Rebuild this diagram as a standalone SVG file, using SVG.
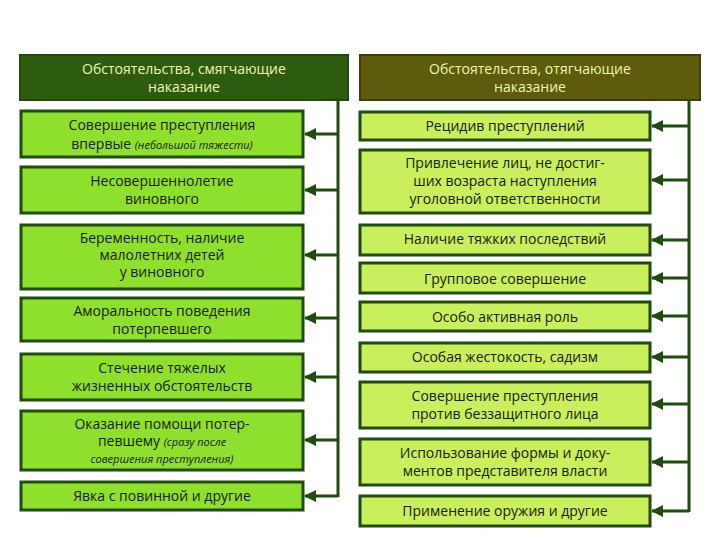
<svg xmlns="http://www.w3.org/2000/svg" width="720" height="540" viewBox="0 0 720 540">
<style>
text{font-family:"Open Sans","DejaVu Sans",sans-serif;font-size:14px;fill:#1a1a0a;text-anchor:middle}
.h{fill:#eef7b0}
.it{font-style:italic;font-size:11px}
.lb{fill:#8fe02c;stroke:#1f4d0c;stroke-width:3}
.rb{fill:#c9ef5c;stroke:#1f4d0c;stroke-width:3}
.c{stroke:#1f4d0c;stroke-width:3;fill:none}
</style>
<defs>
<marker id="m" markerWidth="12" markerHeight="12" refX="11" refY="6" orient="auto" markerUnits="userSpaceOnUse"><path d="M12,6L0,0V12Z" fill="#1f4d0c"/></marker></defs>
<rect width="720" height="540" fill="#fff"/>
<g id="hl"><rect x="20" y="55" width="328" height="45" fill="#2e5c0f" stroke="#1f4d0c" stroke-width="2"/><text class="h" x="184" y="74">Обстоятельства, смягчающие</text><text class="h" x="184" y="92">наказание</text></g>
<g id="hr"><rect x="360" y="55" width="340" height="45" fill="#5c5c0c" stroke="#3f3f08" stroke-width="2"/><text class="h" x="530" y="74">Обстоятельства, отягчающие</text><text class="h" x="530" y="92">наказание</text></g>
<g id="l1"><rect class="lb" x="21" y="111" width="282" height="46"/><text x="162" y="130">Совершение преступления</text><text x="162" y="149"><tspan>впервые </tspan><tspan class="it">(небольшой тяжести)</tspan></text></g>
<g id="l2"><rect class="lb" x="21" y="167" width="282" height="46"/><text x="162" y="186">Несовершеннолетие</text><text x="162" y="204">виновного</text></g>
<g id="l3"><rect class="lb" x="21" y="225" width="282" height="64"/><text x="162" y="243">Беременность, наличие</text><text x="162" y="260">малолетних детей</text><text x="162" y="277">у виновного</text></g>
<g id="l4"><rect class="lb" x="21" y="298" width="282" height="43"/><text x="162" y="316">Аморальность поведения</text><text x="162" y="334">потерпевшего</text></g>
<g id="l5"><rect class="lb" x="21" y="354" width="282" height="46"/><text x="162" y="373">Стечение тяжелых</text><text x="162" y="391">жизненных обстоятельств</text></g>
<g id="l6"><rect class="lb" x="21" y="411" width="282" height="59"/><text x="162" y="429">Оказание помощи потер-</text><text x="162" y="446"><tspan>певшему </tspan><tspan class="it">(сразу после</tspan></text><text class="it" x="162" y="463">совершения преступления)</text></g>
<g id="l7"><rect class="lb" x="21" y="482" width="282" height="28"/><text x="162" y="501">Явка с повинной и другие</text></g>
<g id="r1"><rect class="rb" x="360" y="112" width="290" height="28"/><text x="505" y="131">Рецидив преступлений</text></g>
<g id="r2"><rect class="rb" x="360" y="150" width="290" height="63"/><text x="505" y="168">Привлечение лиц, не достиг-</text><text x="505" y="186">ших возраста наступления</text><text x="505" y="204">уголовной ответственности</text></g>
<g id="r3"><rect class="rb" x="360" y="225" width="290" height="30"/><text x="505" y="244">Наличие тяжких последствий</text></g>
<g id="r4"><rect class="rb" x="360" y="263" width="290" height="30"/><text x="505" y="284">Групповое совершение</text></g>
<g id="r5"><rect class="rb" x="360" y="302" width="290" height="29"/><text x="505" y="322">Особо активная роль</text></g>
<g id="r6"><rect class="rb" x="360" y="343" width="290" height="29"/><text x="505" y="362">Особая жестокость, садизм</text></g>
<g id="r7"><rect class="rb" x="360" y="382" width="290" height="46"/><text x="505" y="401">Совершение преступления</text><text x="505" y="419">против беззащитного лица</text></g>
<g id="r8"><rect class="rb" x="360" y="439" width="290" height="46"/><text x="505" y="458">Использование формы и доку-</text><text x="505" y="476">ментов представителя власти</text></g>
<g id="r9"><rect class="rb" x="360" y="496" width="290" height="30"/><text x="505" y="516">Применение оружия и другие</text></g>
<g id="conn">
<path class="c" d="M338,100V497"/>
<path class="c" d="M689,100V512"/>
<g class="c" marker-end="url(#m)">
<path d="M338,134H305"/><path d="M338,190H305"/><path d="M338,255H305"/><path d="M338,318H305"/><path d="M338,377H305"/><path d="M338,440H305"/><path d="M338,496H305"/>
<path d="M689,126H652"/><path d="M689,180H652"/><path d="M689,240H652"/><path d="M689,278H652"/><path d="M689,316H652"/><path d="M689,357H652"/><path d="M689,404H652"/><path d="M689,462H652"/><path d="M689,511H652"/>
</g></g>
</svg>
